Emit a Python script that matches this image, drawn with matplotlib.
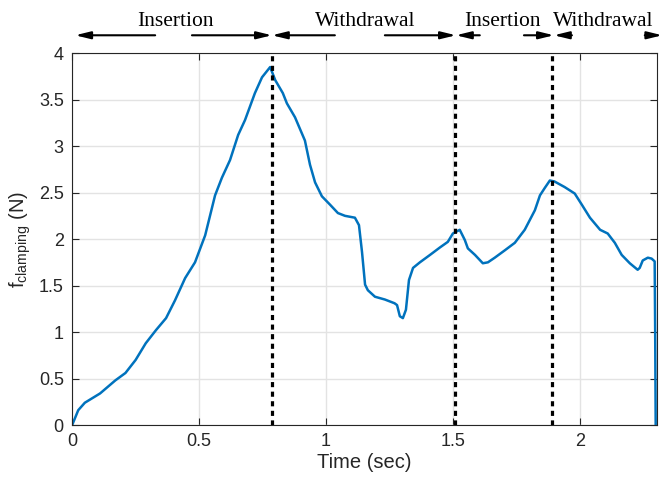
import matplotlib
matplotlib.use('Agg')
import matplotlib.pyplot as plt

# clamping force trace
time_s = [0.0, 0.024, 0.05, 0.11, 0.17, 0.21, 0.25, 0.29, 0.33, 0.37, 0.405, 0.445,
          0.484, 0.524, 0.563, 0.59, 0.622, 0.654, 0.681, 0.72, 0.748, 0.78, 0.80,
          0.83, 0.846, 0.878, 0.917, 0.937, 0.957, 0.984, 1.016, 1.047, 1.075, 1.114,
          1.13, 1.142, 1.154, 1.165, 1.193, 1.232, 1.27, 1.28, 1.291, 1.303, 1.315,
          1.327, 1.343, 1.37, 1.41, 1.449, 1.48, 1.5, 1.527, 1.547, 1.559, 1.587,
          1.618, 1.638, 1.665, 1.705, 1.744, 1.783, 1.823, 1.843, 1.862, 1.882, 1.90,
          1.94, 1.98, 2.008, 2.04, 2.08, 2.11, 2.138, 2.165, 2.197, 2.228, 2.236,
          2.248, 2.268, 2.283, 2.295, 2.297, 2.299]
f_clamp = [0.0, 0.16, 0.24, 0.34, 0.48, 0.56, 0.70, 0.88, 1.02, 1.15, 1.34, 1.58,
           1.75, 2.04, 2.47, 2.66, 2.85, 3.12, 3.28, 3.57, 3.74, 3.85, 3.71,
           3.57, 3.46, 3.31, 3.06, 2.80, 2.61, 2.46, 2.37, 2.28, 2.25, 2.23,
           2.15, 1.86, 1.51, 1.45, 1.38, 1.35, 1.31, 1.29, 1.17, 1.15, 1.24,
           1.56, 1.69, 1.75, 1.83, 1.91, 1.97, 2.06, 2.10, 1.99, 1.90, 1.83,
           1.74, 1.75, 1.80, 1.88, 1.96, 2.10, 2.31, 2.47, 2.55, 2.63, 2.62,
           2.56, 2.49, 2.37, 2.23, 2.10, 2.06, 1.96, 1.83, 1.74, 1.67, 1.69,
           1.77, 1.80, 1.79, 1.76, 1.0, 0.0]

phase_bounds = [0.787, 1.508, 1.89]
phase_labels = ['Insertion', 'Withdrawal', 'Insertion', 'Withdrawal']
label_x = [0.406, 1.154, 1.697, 2.094]
# (tail, head) of each arrow in time units
arrows = [(0.327, 0.012), (0.472, 0.787), (1.035, 0.787), (1.232, 1.512),
          (1.606, 1.512), (1.78, 1.898), (1.969, 1.898), (2.256, 2.325)]

plt.rcParams['font.family'] = ['Liberation Sans', 'DejaVu Sans']

fig = plt.figure(figsize=(6.62, 4.83), dpi=100)
ax = fig.add_axes([0.109, 0.12, 0.883, 0.77])

ax.plot(time_s, f_clamp, color='#0072BD', lw=1.8)
for xb in phase_bounds:
    ax.plot([xb, xb], [0, 4], color='black', lw=2.3, dashes=(1.6, 1.4))

ax.set_xlim(0, 2.303)
ax.set_ylim(0, 4)
ax.set_xticks([0, 0.5, 1, 1.5, 2])
ax.set_xticklabels(['0', '0.5', '1', '1.5', '2'])
ax.set_yticks([0, 0.5, 1, 1.5, 2, 2.5, 3, 3.5, 4])
ax.set_yticklabels(['0', '0.5', '1', '1.5', '2', '2.5', '3', '3.5', '4'])
ax.grid(True, color='#e3e3e3', lw=1.0)
ax.set_axisbelow(True)
ax.tick_params(direction='in', top=True, right=True, length=5, width=0.8,
               labelsize=13, colors='#262626', pad=6)
for sp in ax.spines.values():
    sp.set_color('#262626')
    sp.set_linewidth(0.8)

ax.set_xlabel('Time (sec)', fontsize=14.5, color='#262626', labelpad=2)
ax.set_ylabel(r'$\mathregular{f_{clamping}}$ (N)', fontsize=14.5, color='#262626', labelpad=4)

for tail, head in arrows:
    ax.annotate('', xy=(head, 1.048), xytext=(tail, 1.048),
                xycoords=('data', 'axes fraction'), textcoords=('data', 'axes fraction'),
                annotation_clip=False,
                arrowprops=dict(arrowstyle='-|>,head_length=0.9,head_width=0.22',
                                color='black', lw=1.5, shrinkA=0, shrinkB=0))
for lx, lab in zip(label_x, phase_labels):
    ax.text(lx, 1.085, lab, transform=ax.get_xaxis_transform(), ha='center', va='center',
            fontsize=15.5, family='Liberation Serif', color='black', clip_on=False)

fig.savefig('out.png', dpi=100)
